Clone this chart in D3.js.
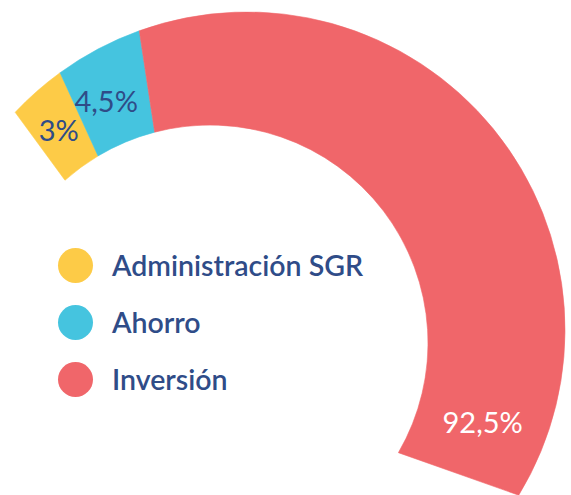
<!DOCTYPE html>
<html>
<head>
<meta charset="utf-8">
<script src="https://cdn.jsdelivr.net/npm/d3@7"></script>
<style>
  html, body { margin: 0; padding: 0; background: #ffffff; }
  svg { display: block; }
</style>
</head>
<body>
<svg id="chart" width="571" height="495"></svg>
<script>
// ---- data ----
const categories = ["Administración SGR", "Ahorro", "Inversión"];
const values = [3, 4.5, 92.5];
const valueLabels = ["3%", "4,5%", "92,5%"];
const colors = ["#FDCB47", "#45C4DF", "#F0666A"];

// ---- layout ----
const W = 571, H = 495;
const deg = Math.PI / 180;
const outerC = { x: 247, y: 330 }, R = 318;
const innerC = { x: 210, y: 343 }, r = 218;
const outerStart = -46.8 * deg, innerStart = -41.7 * deg;
const outerEnd = 121.3 * deg, innerEnd = 120.2 * deg;
const textColor = "#2F4C88";
const font = "Lato, 'Open Sans', sans-serif";

const svg = d3.select("#chart");

const pie = d3.pie().sort(null).startAngle(0).endAngle(2 * Math.PI);
const arcs = pie(values);

// share-of-circle -> angle, separately for the outer and inner rims
const outerAngle = d3.scaleLinear().domain([0, 2 * Math.PI]).range([outerStart, outerStart + 2 * Math.PI]);
const innerAngle = d3.scaleLinear().domain([0, 2 * Math.PI]).range([innerStart, innerStart + 2 * Math.PI]);

function pt(c, rad, a) { return [c.x + rad * Math.sin(a), c.y - rad * Math.cos(a)]; }

const slices = arcs.map((d, i) => {
  const o0 = outerAngle(d.startAngle), i0 = innerAngle(d.startAngle);
  const o1 = Math.min(outerAngle(d.endAngle), outerEnd);
  const i1 = Math.min(innerAngle(d.endAngle), innerEnd);
  return { i, o0, o1, i0, i1 };
});

function slicePath(s) {
  const p = d3.path();
  p.arc(outerC.x, outerC.y, R, s.o0 - Math.PI / 2, s.o1 - Math.PI / 2, false);
  p.arc(innerC.x, innerC.y, r, s.i1 - Math.PI / 2, s.i0 - Math.PI / 2, true);
  p.closePath();
  return p.toString();
}

svg.append("g").selectAll("path").data(slices).join("path")
  .attr("d", slicePath)
  .attr("fill", d => colors[d.i])
  .attr("stroke", d => colors[d.i])
  .attr("stroke-width", 0.6);

// value labels: placed between the rims
const labelPos = slices.map(s => {
  let ao, ai, t;
  if (s.i === 0) { ao = (s.o0 + s.o1) / 2; ai = (s.i0 + s.i1) / 2; t = 0.5; }
  else if (s.i === 1) { ao = (s.o0 + s.o1) / 2 - 1.5 * deg; ai = (s.i0 + s.i1) / 2 - 1.5 * deg; t = 0.52; }
  else { ao = s.o1 - 12 * deg; ai = s.i1 - 13 * deg; t = 0.5; }
  const po = pt(outerC, R, ao), pi = pt(innerC, r, ai);
  return { i: s.i, x: po[0] + (pi[0] - po[0]) * t, y: po[1] + (pi[1] - po[1]) * t };
});

svg.append("g").selectAll("text").data(labelPos).join("text")
  .attr("x", d => d.x)
  .attr("y", d => d.y)
  .attr("text-anchor", "middle")
  .attr("dominant-baseline", "central")
  .attr("font-family", font)
  .attr("font-size", 29)
  .attr("fill", d => d.i === 2 ? "#ffffff" : textColor)
  .text(d => valueLabels[d.i]);

// legend
const legendY = d3.scalePoint().domain(categories).range([265.5, 379.5]);
const legend = svg.append("g");
const items = legend.selectAll("g").data(categories).join("g")
  .attr("transform", d => `translate(0,${legendY(d)})`);
items.append("circle").attr("cx", 75.5).attr("cy", 0).attr("r", 17.5)
  .attr("fill", (d, i) => colors[i]);
items.append("text").attr("x", 112).attr("y", 10.5)
  .attr("font-family", font).attr("font-size", 28.5).attr("font-weight", 600)
  .attr("fill", textColor)
  .text(d => d);
</script>
</body>
</html>
